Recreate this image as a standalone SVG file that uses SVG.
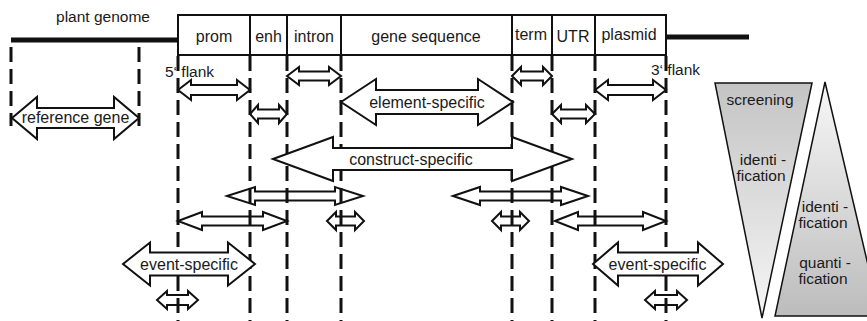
<svg xmlns="http://www.w3.org/2000/svg" width="867" height="321" viewBox="0 0 867 321">
<defs>
<style>
text{font-family:"Liberation Sans",Arial,sans-serif;fill:#1a1a1a}
.lbl{font-size:16px;text-anchor:middle}
.ptx{font-size:15.5px;text-anchor:middle}
.arr{fill:#fff;stroke:#111;stroke-width:2;stroke-linejoin:miter}
.dash{stroke:#111;stroke-width:3;stroke-dasharray:15 7;fill:none}
.thick{stroke:#111;stroke-width:5;fill:none}
.box{fill:#fff;stroke:#111;stroke-width:2}
.div{stroke:#111;stroke-width:2}
.tri{stroke:#111;stroke-width:1.5}
</style>
<linearGradient id="gDown" x1="0" y1="0" x2="0" y2="1">
<stop offset="0" stop-color="#c4c4c4"/>
<stop offset="1" stop-color="#f6f6f6"/>
</linearGradient>
<linearGradient id="gUp" x1="0" y1="0" x2="0" y2="1">
<stop offset="0" stop-color="#f8f8f8"/>
<stop offset="1" stop-color="#bcbcbc"/>
</linearGradient>
</defs>
<rect width="867" height="321" fill="#fff"/>

<g id="genome">
<text x="103" y="22" class="lbl" style="font-size:15.5px">plant genome</text>
<line x1="11" y1="40" x2="178" y2="40" class="thick"/>
<line x1="666" y1="37" x2="749" y2="37" class="thick"/>
</g>

<g id="construct-box">
<rect x="178" y="15" width="488" height="40" class="box"/>
<line x1="250" y1="15" x2="250" y2="55" class="div"/>
<line x1="287" y1="15" x2="287" y2="55" class="div"/>
<line x1="341" y1="15" x2="341" y2="55" class="div"/>
<line x1="512" y1="15" x2="512" y2="55" class="div"/>
<line x1="552" y1="15" x2="552" y2="55" class="div"/>
<line x1="595" y1="15" x2="595" y2="55" class="div"/>
<text x="214" y="42" class="lbl">prom</text>
<text x="268.5" y="42" class="lbl">enh</text>
<text x="314" y="42" class="lbl">intron</text>
<text x="426" y="42" class="lbl">gene sequence</text>
<text x="531" y="40" class="lbl">term</text>
<text x="573" y="42" class="lbl">UTR</text>
<text x="629" y="40" class="lbl">plasmid</text>
</g>

<g id="flank-labels">
<text x="165" y="77" style="font-size:15.5px">5‘ flank</text>
<text x="651" y="75" style="font-size:15.5px">3‘ flank</text>
</g>

<g id="small-arrows">
<polygon id="a-5flank" class="arr" points="178,90 191,80 191,85 237,85 237,80 250,90 237,100 237,95 191,95 191,100"/>
<polygon id="a-intron" class="arr" points="287,76 299,67 299,71.5 329,71.5 329,67 341,76 329,85 329,80.5 299,80.5 299,85"/>
<polygon id="a-term" class="arr" points="512,76 521,67 521,71.5 543,71.5 543,67 552,76 543,85 543,80.5 521,80.5 521,85"/>
<polygon id="a-3flank" class="arr" points="595,90 608,80 608,85 653,85 653,80 666,90 653,100 653,95 608,95 608,100"/>
<polygon id="a-enh" class="arr" points="250,114 258,105 258,109.5 279,109.5 279,105 287,114 279,123 279,118.5 258,118.5 258,123"/>
<polygon id="a-utr" class="arr" points="552,114 561,105 561,109.5 586,109.5 586,105 595,114 586,123 586,118.5 561,118.5 561,123"/>
<polygon id="a-mid-left" class="arr" points="227,196 255,187 255,191.5 335,191.5 335,187 363,196 335,205 335,200.5 255,200.5 255,205"/>
<polygon id="a-mid-right" class="arr" points="453,196 480,187 480,191.5 561,191.5 561,187 588,196 561,205 561,200.5 480,200.5 480,205"/>
<polygon id="a-row220-left" class="arr" points="178,221 202,212 202,216.5 263,216.5 263,212 287,221 263,230 263,225.5 202,225.5 202,230"/>
<polygon id="a-small-341" class="arr" points="327,221 336,212 336,216.5 355,216.5 355,212 364,221 355,230 355,225.5 336,225.5 336,230"/>
<polygon id="a-small-512" class="arr" points="492,221 501,212 501,216.5 520,216.5 520,212 529,221 520,230 520,225.5 501,225.5 501,230"/>
<polygon id="a-row220-right" class="arr" points="555,221 578,212 578,216.5 643,216.5 643,212 666,221 643,230 643,225.5 578,225.5 578,230"/>
<polygon id="a-small-178" class="arr" points="157,300 167,291 167,295 188,295 188,291 198,300 188,309 188,305 167,305 167,309"/>
<polygon id="a-small-666" class="arr" points="645,300 655,291 655,295 677,295 677,291 687,300 677,309 677,305 655,305 655,309"/>
</g>

<g id="dashed-lines">
<line x1="11" y1="47" x2="11" y2="126" class="dash"/>
<line x1="139" y1="47" x2="139" y2="126" class="dash"/>
<line x1="178" y1="56" x2="178" y2="321" class="dash"/>
<line x1="250" y1="56" x2="250" y2="321" class="dash"/>
<line x1="287" y1="56" x2="287" y2="321" class="dash"/>
<line x1="341" y1="56" x2="341" y2="321" class="dash"/>
<line x1="512" y1="56" x2="512" y2="321" class="dash"/>
<line x1="552" y1="56" x2="552" y2="321" class="dash"/>
<line x1="595" y1="56" x2="595" y2="321" class="dash"/>
<line x1="666" y1="56" x2="666" y2="321" class="dash"/>
</g>

<g id="reference-gene">
<polygon class="arr" points="12,118 37,97 37,108 114,108 114,97 139,118 114,139 114,128 37,128 37,139"/>
<text x="75.5" y="123" class="lbl">reference gene</text>
</g>

<g id="element-specific">
<polygon class="arr" points="341,102 376,79 376,90 478,90 478,79 513,102 478,125 478,114 376,114 376,125"/>
<text x="427" y="108" class="lbl">element-specific</text>
</g>

<g id="construct-specific">
<polygon class="arr" points="273,159 333,137 333,148 512,148 512,137 572,159 512,181 512,170 333,170 333,181"/>
<text x="411" y="165" class="lbl">construct-specific</text>
</g>

<g id="event-specific-left">
<polygon class="arr" points="123,264 150,242.5 150,252.5 228,252.5 228,242.5 255,264 228,285.5 228,275.5 150,275.5 150,285.5"/>
<text x="189" y="270" class="lbl">event-specific</text>
</g>

<g id="event-specific-right">
<polygon class="arr" points="593,264 618,242.5 618,252.5 698,252.5 698,242.5 723,264 698,285.5 698,275.5 618,275.5 618,285.5"/>
<text x="657.5" y="270" class="lbl">event-specific</text>
</g>

<g id="funnel-screening">
<polygon class="tri" fill="url(#gDown)" points="715,83 812,83 762,318"/>
<text x="760" y="105" class="ptx">screening</text>
<text x="763" y="165" class="ptx">identi -</text>
<text x="761" y="181" class="ptx">fication</text>
</g>

<g id="pyramid-quantification">
<polygon class="tri" fill="url(#gUp)" points="825,82 775,316 880,316"/>
<text x="825" y="212" class="ptx">identi -</text>
<text x="823" y="228" class="ptx">fication</text>
<text x="825" y="268" class="ptx">quanti -</text>
<text x="823" y="284" class="ptx">fication</text>
</g>
</svg>
